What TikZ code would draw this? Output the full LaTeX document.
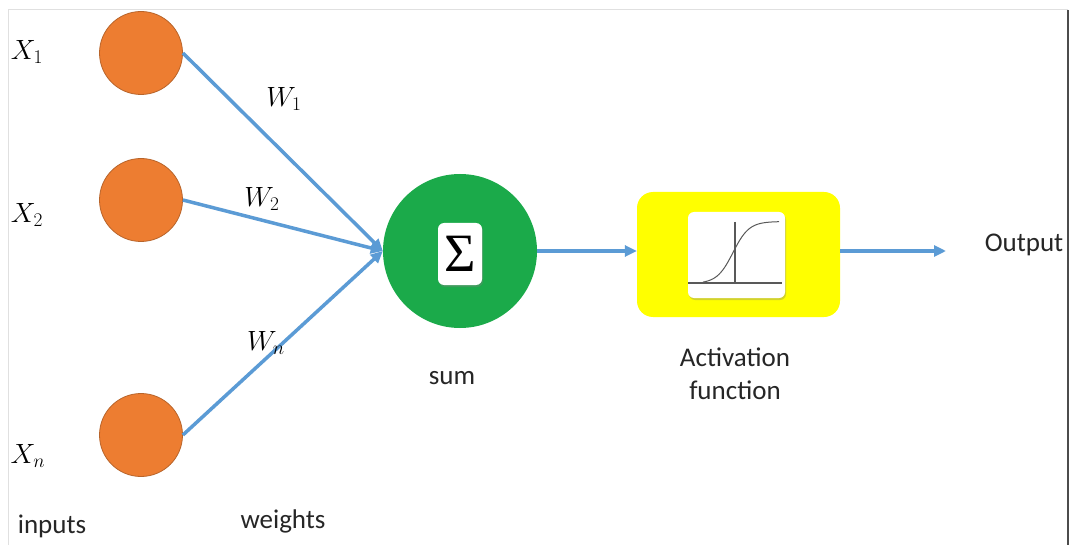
\documentclass[tikz,border=0pt]{standalone}
\usepackage{fontspec}
\setmainfont{Carlito}
\newfontfamily\sigmafont{Liberation Serif}
\usetikzlibrary{arrows.meta,shadows}
\definecolor{inorange}{HTML}{ED7D31}
\definecolor{inorangeb}{HTML}{B8642A}
\definecolor{sumgreen}{HTML}{1BAA4A}
\definecolor{actyellow}{HTML}{FFFF00}
\definecolor{linkblue}{HTML}{5B9BD5}
\newcommand{\mlbl}[1]{\scalebox{1.12}{\fontsize{24}{28}\selectfont$#1$}}
\begin{document}
\begin{tikzpicture}[x=1pt,y=-1pt,
  inputnode/.style={circle,fill=inorange,draw=inorangeb,line width=0.8pt,minimum size=83pt,inner sep=0pt},
  link/.style={draw=linkblue,line width=3.5pt,-{Triangle[length=12pt,width=11pt]}},
  txt/.style={font=\fontsize{27}{33}\selectfont,text=black!85,align=center},
  whitebox/.style={fill=white,rounded corners=6pt,drop shadow={shadow xshift=1pt,shadow yshift=-2pt,opacity=0.35}}]
\useasboundingbox (0,0) rectangle (1070,545);
\fill[white] (0,0) rectangle (1070,545);
% frame
\draw[black!12,line width=1pt] (8,545) -- (8,10) -- (1068,10);
\draw[black!70,line width=1.2pt] (1068,10) -- (1068,545);
% inputs
\node[inputnode] (x1) at (141,53) {};
\node[inputnode] (x2) at (141,200) {};
\node[inputnode] (xn) at (141,435) {};
\node (lx1) at (27,52) {\mlbl{X_1}};
\node (lx2) at (27,215) {\mlbl{X_2}};
\node (lxn) at (28,456) {\mlbl{X_n}};
% sum
\node[circle,fill=sumgreen,minimum size=154pt,inner sep=0pt] (sum) at (460,251) {};
\node[whitebox,minimum width=44pt,minimum height=62pt,inner sep=0pt] (sigma) at (460,254) {\sigmafont\fontsize{54}{54}\selectfont Σ};
% activation
\node[fill=actyellow,rounded corners=16pt,minimum width=203pt,minimum height=125pt,inner sep=0pt] (act) at (738.5,254.5) {};
\node[whitebox,minimum width=97pt,minimum height=86pt,inner sep=0pt] (plotbox) at (736.5,255) {};
\draw[black!65,line width=1.2pt] (688,283) -- (782,283);
\draw[black!65,line width=1.2pt] (735,222) -- (735,283);
\draw[black!65,line width=1pt,smooth,domain=703:779,samples=40] plot (\x,{252.5-31*tanh((\x-733)/16)});
% output
\coordinate (outend) at (946,253);
\node[txt] (out) at (1024,245) {Output};
% links
\draw[link] (x1.east) -- (sum.west);
\draw[link] (x2.east) -- (sum.west);
\draw[link] (xn.east) -- (sum.west);
\draw[link] (sum.east) -- (sum.east -| act.west);
\draw[link] (act.east |- sum.east) -- (outend |- sum.east);
% labels
\node (w1) at (284,99) {\mlbl{W_1}};
\node (w2) at (262,199) {\mlbl{W_2}};
\node (wn) at (266,343) {\mlbl{W_n}};
\node[txt] (lsum) at (452,378) {sum};
\node[txt] (lact) at (735,374) {Activation\\function};
\node[txt] (linputs) at (52,526) {inputs};
\node[txt] (lweights) at (283,521) {weights};
\end{tikzpicture}
\end{document}
